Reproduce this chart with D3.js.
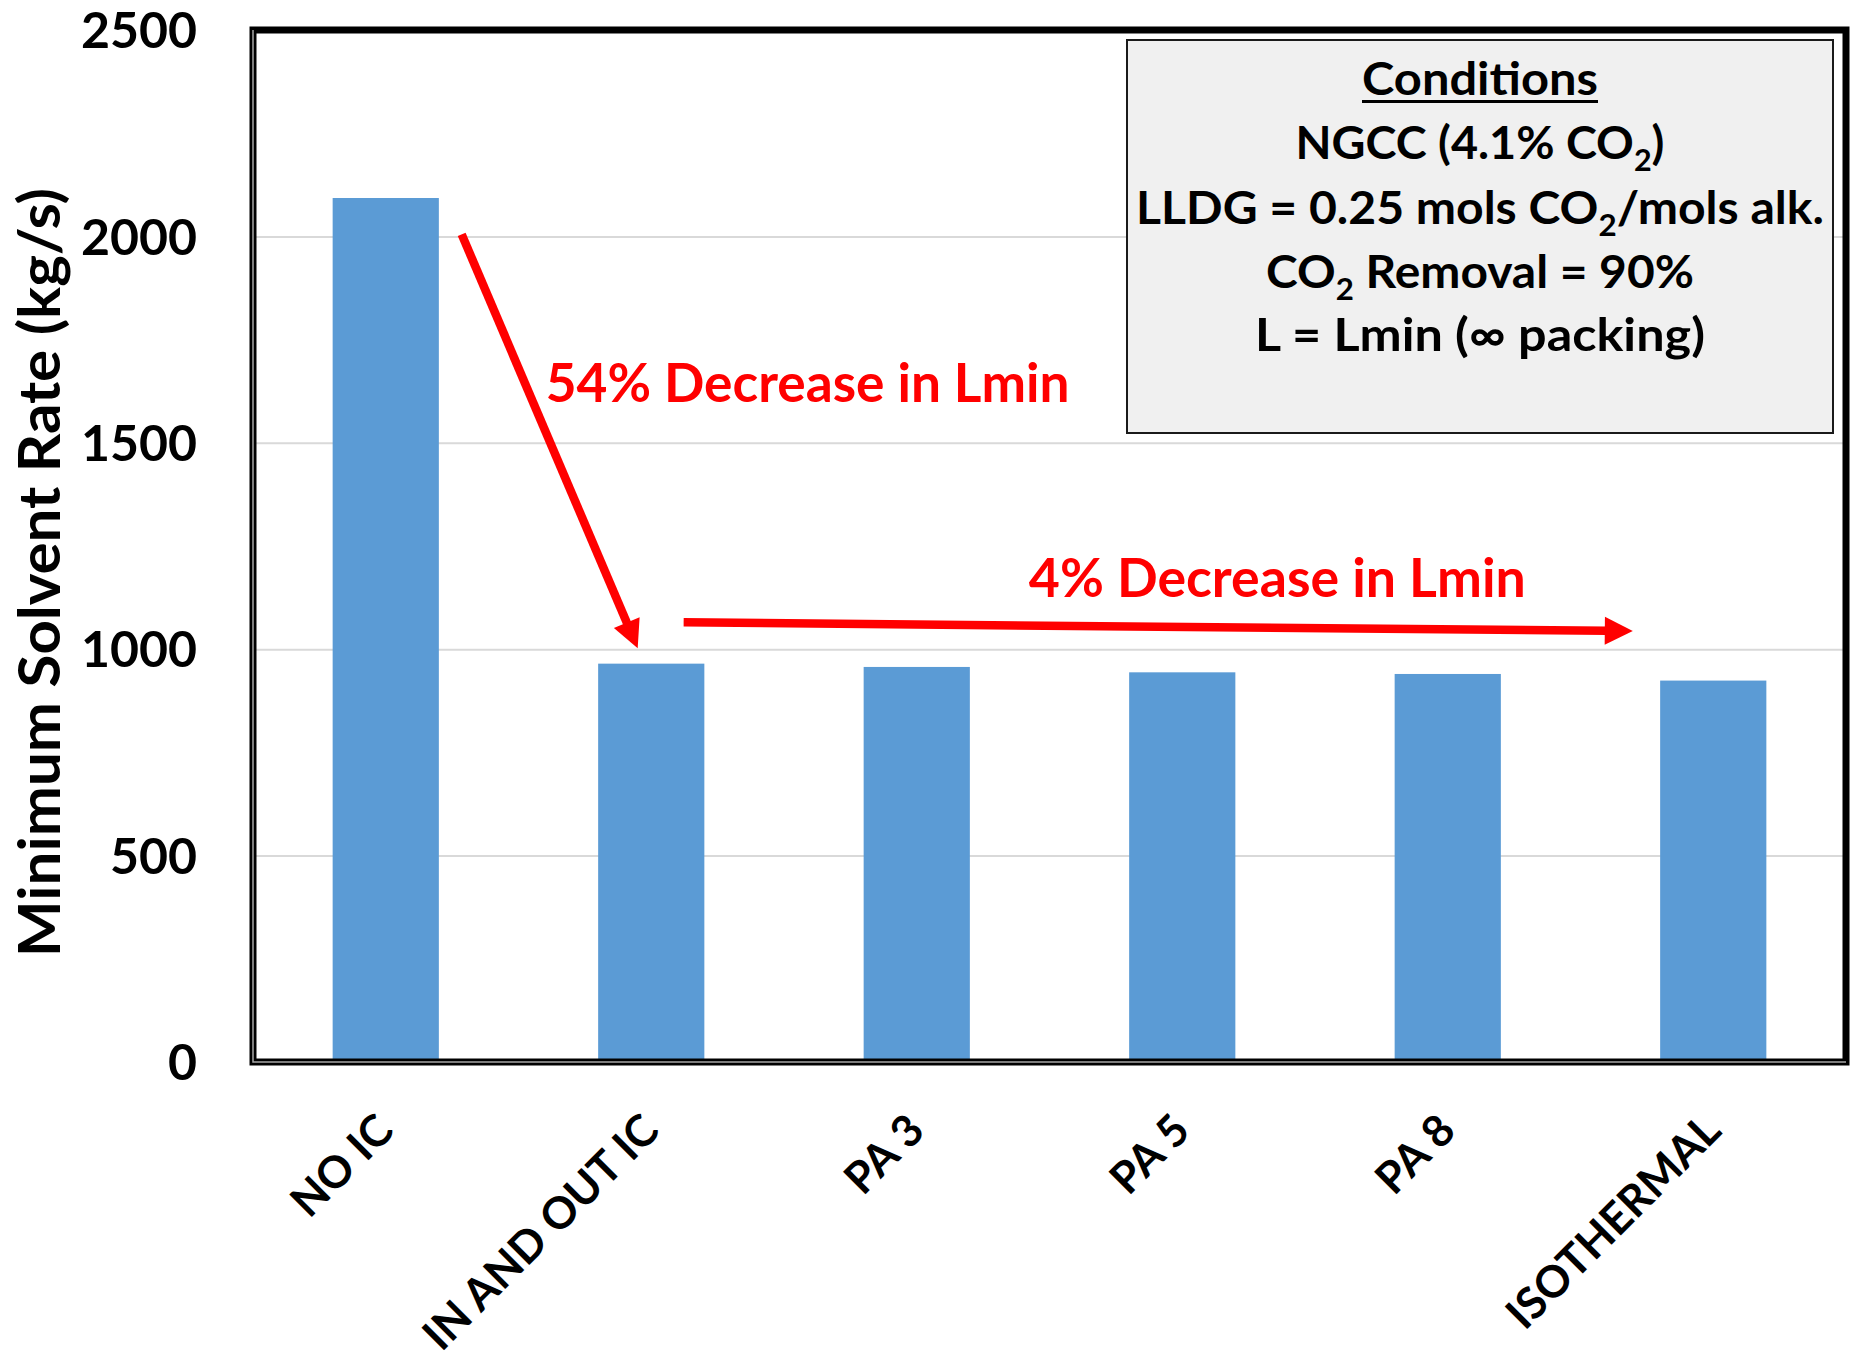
<!DOCTYPE html>
<html>
<head>
<meta charset="utf-8">
<script src="https://cdn.jsdelivr.net/npm/d3@7"></script>
<style>
  html, body { margin: 0; padding: 0; background: #fff; }
  svg { display: block; }
  text { font-family: Lato, "Open Sans", "Noto Sans", sans-serif; font-weight: 700; }
</style>
</head>
<body>
<svg id="chart" width="1856" height="1364"></svg>
<script>
// ---- data -------------------------------------------------------------
const categories = ["NO IC", "IN AND OUT IC", "PA 3", "PA 5", "PA 8", "ISOTHERMAL"];
const solventRate = [2093, 965, 957, 944, 940, 924];          // kg/s
const yTicks = [0, 500, 1000, 1500, 2000, 2500];
const yTitle = "Minimum Solvent Rate (kg/s)";

// Conditions box: each line is a list of [text, isSubscript]
const conditionsTitle = "Conditions";
const conditionLines = [
  [["NGCC (4.1% CO", false], ["2", true], [")", false]],
  [["LLDG = 0.25 mols CO", false], ["2", true], ["/mols alk.", false]],
  [["CO", false], ["2", true], [" Removal = 90%", false]],
  [["L = Lmin (\u221E packing)", false]]
];

// Red call-outs: position given as [category offset, value]
const calloutText = ["54% Decrease in Lmin", "4% Decrease in Lmin"];
const calloutAt = [[1.589, 1600], [3.358, 1126]];
const arrowFrom = [[0.286, 2005], [1.122, 1065]];
const arrowTo   = [[0.949, 1002], [4.697, 1044]];

// ---- layout -----------------------------------------------------------
const plot = { left: 253, right: 1846, top: 30, bottom: 1062 };
const BAR = "#5b9bd5", RED = "#ff0000";

const svg = d3.select("#chart");

const x = d3.scaleBand()
  .domain(categories)
  .range([plot.left, plot.right])
  .paddingInner(0.6)
  .paddingOuter(0.3);

const y = d3.scaleLinear()
  .domain([0, 2500])
  .range([plot.bottom, plot.top]);

// category offset -> pixel x (0 = centre of first category)
const xAt = k => x(categories[0]) + x.bandwidth() / 2 + k * x.step();

// squeeze/stretch a text horizontally to a given width
function fitWidth(sel, target) {
  const w = sel.node().getBBox().width;
  sel.attr("transform", `scale(${target / w},1)`);
}

// ---- gridlines --------------------------------------------------------
svg.append("g")
  .attr("transform", `translate(${plot.left},0)`)
  .call(d3.axisLeft(y).tickValues(yTicks.filter(v => v > 0 && v < 2500))
    .tickSize(-(plot.right - plot.left)).tickFormat(""))
  .call(g => g.select(".domain").remove())
  .call(g => g.selectAll("line").attr("stroke", "#d9d9d9").attr("stroke-width", 2));

// ---- bars -------------------------------------------------------------
svg.append("g")
  .selectAll("rect")
  .data(categories)
  .join("rect")
  .attr("x", d => x(d))
  .attr("width", x.bandwidth())
  .attr("y", (d, i) => y(solventRate[i]))
  .attr("height", (d, i) => y(0) - y(solventRate[i]))
  .attr("fill", BAR);

// ---- plot frame -------------------------------------------------------
svg.append("rect")
  .attr("x", plot.left).attr("y", plot.top)
  .attr("width", plot.right - plot.left).attr("height", plot.bottom - plot.top)
  .attr("fill", "none").attr("stroke", "#000").attr("stroke-width", 7);
svg.append("path")
  .attr("d", `M${plot.left},${plot.top}V${plot.bottom}H${plot.right}`)
  .attr("fill", "none").attr("stroke", "#a6a6a6").attr("stroke-width", 1.5);

// ---- y axis labels ----------------------------------------------------
svg.append("g")
  .attr("transform", `translate(197,0)`)
  .call(d3.axisLeft(y).tickValues(yTicks).tickFormat(d3.format("d")).tickSize(0).tickPadding(0))
  .call(g => g.select(".domain").remove())
  .call(g => g.selectAll("text")
    .attr("dy", "0.355em")
    .attr("fill", "#000")
    .style("font-family", "Lato, 'Open Sans', sans-serif")
    .style("font-weight", 700)
    .style("font-size", "50px"));

// y axis title
const yt = svg.append("g")
  .attr("transform", `translate(60,${(188 + 957) / 2}) rotate(-90)`)
  .append("text")
  .attr("text-anchor", "middle")
  .attr("font-size", 58)
  .attr("fill", "#000")
  .text(yTitle);
fitWidth(yt, 769);

// ---- x axis labels ----------------------------------------------------
svg.append("g")
  .selectAll("g")
  .data(categories)
  .join("g")
  .attr("transform", d => `translate(${x(d) + x.bandwidth() / 2 + 10},1133) rotate(-45)`)
  .append("text")
  .attr("text-anchor", "end")
  .attr("font-size", 44)
  .attr("fill", "#000")
  .text(d => d);

// ---- red arrows -------------------------------------------------------
const headLen = 28, headHalf = 14;
arrowFrom.forEach((f, i) => {
  const t = arrowTo[i];
  const x0 = xAt(f[0]), y0 = y(f[1]), x1 = xAt(t[0]), y1 = y(t[1]);
  const len = Math.hypot(x1 - x0, y1 - y0);
  const ux = (x1 - x0) / len, uy = (y1 - y0) / len;
  const bx = x1 - ux * headLen, by = y1 - uy * headLen;
  svg.append("line")
    .attr("x1", x0).attr("y1", y0).attr("x2", bx + ux * 2).attr("y2", by + uy * 2)
    .attr("stroke", RED).attr("stroke-width", 8.5);
  svg.append("path")
    .attr("d", `M${x1},${y1}L${bx - uy * headHalf},${by + ux * headHalf}L${bx + uy * headHalf},${by - ux * headHalf}Z`)
    .attr("fill", RED);
});

// call-out texts
const calloutWidth = [524, 497];
calloutText.forEach((s, i) => {
  const t = svg.append("g")
    .attr("transform", `translate(${xAt(calloutAt[i][0])},${y(calloutAt[i][1])})`)
    .append("text")
    .attr("text-anchor", "middle")
    .attr("font-size", 53)
    .attr("fill", RED)
    .text(s);
  fitWidth(t, calloutWidth[i]);
});

// ---- conditions box ---------------------------------------------------
const box = { x: 1127, y: 40, w: 706, h: 393 };
const cx = box.x + box.w / 2;
svg.append("rect")
  .attr("x", box.x).attr("y", box.y).attr("width", box.w).attr("height", box.h)
  .attr("fill", "#f0f0f0").attr("stroke", "#1a1a1a").attr("stroke-width", 2);

const titleT = svg.append("g").attr("transform", `translate(${cx},95)`)
  .append("text").attr("text-anchor", "middle").attr("font-size", 46).attr("fill", "#000")
  .text(conditionsTitle);
fitWidth(titleT, 236);
svg.append("line")
  .attr("x1", cx - 118).attr("x2", cx + 118).attr("y1", 101.5).attr("y2", 101.5)
  .attr("stroke", "#000").attr("stroke-width", 3);

const lineBase = [159, 224, 288, 351];
const lineWidth = [369, 688, 428, 450];
conditionLines.forEach((parts, i) => {
  const t = svg.append("g").attr("transform", `translate(${cx},${lineBase[i]})`)
    .append("text").attr("text-anchor", "middle").attr("font-size", 46).attr("fill", "#000");
  parts.forEach(([s, sub]) => {
    const ts = t.append("tspan").text(s);
    if (sub) ts.attr("font-size", 30).attr("dy", 12);
    else if (t.selectAll("tspan").size() > 1) ts.attr("dy", -12);
  });
  fitWidth(t, lineWidth[i]);
});
</script>
</body>
</html>
